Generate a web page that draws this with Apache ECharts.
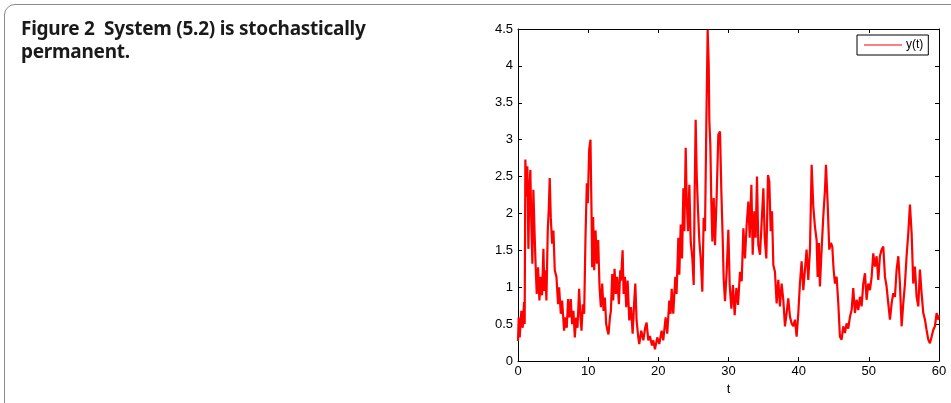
<!DOCTYPE html>
<html>
<head>
<meta charset="utf-8">
<script src="https://cdn.jsdelivr.net/npm/echarts@6/dist/echarts.min.js"></script>
<style>
  html, body { margin: 0; padding: 0; background: #fff; }
  .frame {
    position: absolute; left: 0; top: 0; width: 951px; height: 403px; overflow: hidden;
  }
  .box {
    position: absolute; left: 4px; top: 4px; width: 980px; height: 420px;
    border: 1.5px solid #8a8a8a; border-radius: 11px; box-sizing: border-box;
  }
  .caption {
    position: absolute; left: 21px; top: 17px;
    font-family: "Noto Sans", sans-serif; font-weight: bold; font-size: 19px;
    line-height: 23px; color: #1a1a1a; white-space: pre; letter-spacing: -0.25px;
  }
  #chart { position: absolute; left: 0; top: 0; width: 951px; height: 403px; }
</style>
</head>
<body>
<div class="frame">
  <div class="box"></div>
  <div id="chart"></div>
  <div class="caption">Figure 2  System (5.2) is stochastically
permanent.</div>
</div>
<script>
// values, in order along the trace
var tValues = [
  0, 0.1, 0.24, 0.48, 0.67, 0.86, 0.95, 1.05, 1.19, 1.33, 1.48, 1.62, 1.76, 1.9, 2.05, 2.19, 2.38, 2.52, 2.67, 2.86,
  3.05, 3.24, 3.43, 3.62, 3.76, 3.9, 4.05, 4.24, 4.38, 4.52, 4.67, 4.86, 5.05, 5.24, 5.48, 5.71, 5.86, 6.1, 6.29, 6.57,
  6.76, 6.95, 7.14, 7.33, 7.52, 7.71, 7.9, 8.1, 8.29, 8.48, 8.71, 8.9, 9.05, 9.24, 9.43, 9.62, 9.81, 9.95, 10.14, 10.33,
  10.48, 10.57, 10.71, 10.86, 11.05, 11.24, 11.43, 11.62, 11.81, 12.0, 12.19, 12.38, 12.57, 12.76, 12.9, 13.1, 13.24, 13.43, 13.57, 13.76,
  13.95, 14.14, 14.38, 14.57, 14.67, 14.91, 15.05, 15.24, 15.43, 15.62, 15.86, 16.1, 16.34, 16.57, 16.72, 16.9, 17.14, 17.28, 17.57, 17.86,
  18.14, 18.33, 18.57, 18.8, 19.09, 19.28, 19.52, 19.85, 20.13, 20.47, 20.7, 21.04, 21.27, 21.56, 21.75, 21.9, 22.13, 22.42, 22.6, 22.85,
  22.99, 23.19, 23.38, 23.57, 23.71, 23.9, 24.04, 24.23, 24.42, 24.61, 24.85, 25.04, 25.18, 25.32, 25.47, 25.66, 25.85, 26.04, 26.27, 26.46,
  26.65, 26.84, 27.03, 27.18, 27.27, 27.41, 27.56, 27.7, 27.89, 28.08, 28.32, 28.55, 28.79, 28.98, 29.17, 29.31, 29.5, 29.74, 29.98, 30.17,
  30.41, 30.64, 30.88, 31.12, 31.36, 31.64, 31.88, 32.12, 32.35, 32.59, 32.83, 33.02, 33.26, 33.45, 33.68, 33.87, 34.06, 34.25, 34.49, 34.73,
  34.97, 35.16, 35.39, 35.63, 35.82, 36.01, 36.2, 36.39, 36.62, 36.86, 37.1, 37.33, 37.57, 37.81, 38.05, 38.28, 38.52, 38.76, 39.0, 39.23,
  39.47, 39.71, 39.95, 40.18, 40.42, 40.66, 40.9, 41.13, 41.37, 41.61, 41.85, 42.08, 42.32, 42.56, 42.7, 42.89, 43.03, 43.27, 43.51, 43.75,
  43.89, 44.13, 44.36, 44.6, 44.79, 44.98, 45.17, 45.41, 45.65, 45.88, 46.12, 46.36, 46.6, 46.83, 47.07, 47.31, 47.55, 47.78, 48.02, 48.26,
  48.5, 48.73, 48.97, 49.21, 49.45, 49.68, 49.92, 50.16, 50.4, 50.63, 50.87, 51.11, 51.35, 51.58, 51.82, 52.06, 52.3, 52.53, 52.77, 53.01,
  53.25, 53.48, 53.72, 53.96, 54.2, 54.43, 54.67, 54.91, 55.15, 55.38, 55.62, 55.86, 56.1, 56.33, 56.57, 56.81, 57.05, 57.28, 57.52, 57.76,
  58.0, 58.23, 58.47, 58.71, 58.95, 59.18, 59.42, 59.66, 59.9, 60
];
var yValues = [
  0.27, 0.59, 0.32, 0.68, 0.45, 0.80, 0.5, 2.73, 2.23, 2.64, 1.52, 2.32, 2.59, 1.86, 1.32, 2.32, 1.68, 1.27, 0.91, 1.27,
  0.82, 1.14, 0.89, 1.52, 0.95, 1.23, 0.82, 1.77, 2.05, 2.48, 1.95, 1.59, 1.77, 1.23, 1.14, 0.77, 1.0, 0.64, 0.82, 0.41,
  0.59, 0.45, 0.84, 0.59, 0.84, 0.5, 0.68, 0.32, 0.59, 0.45, 0.98, 0.59, 0.41, 0.77, 0.64, 1.68, 2.41, 2.14, 2.86, 3.0,
  2.0, 1.27, 1.95, 1.23, 1.77, 1.32, 1.64, 1.0, 0.73, 1.05, 0.68, 0.86, 0.5, 0.41, 0.36, 0.59, 0.68, 1.18, 0.82, 1.25,
  0.91, 1.14, 0.77, 1.23, 1.09, 1.5, 0.91, 1.14, 0.73, 1.09, 0.55, 0.73, 0.37, 0.82, 1.05, 0.55, 0.32, 0.23, 0.41, 0.28,
  0.46, 0.52, 0.28, 0.34, 0.21, 0.28, 0.16, 0.32, 0.23, 0.41, 0.28, 0.59, 0.37, 0.82, 0.64, 0.98, 0.64, 1.14, 0.91, 1.67,
  1.17, 1.85, 1.39, 2.34, 1.76, 2.89, 2.21, 1.76, 2.39, 1.62, 1.39, 1.03, 2.3, 3.27, 2.52, 2.03, 1.62, 1.39, 0.94, 1.94,
  1.76, 3.2, 4.49, 4.02, 3.25, 2.93, 2.12, 1.62, 2.21, 1.57, 2.25, 3.07, 3.11, 2.3, 1.67, 1.12, 0.81, 1.21, 1.78, 1.03,
  0.71, 1.03, 0.62, 0.99, 0.76, 1.21, 1.08, 1.8, 1.39, 1.85, 2.16, 1.67, 2.39, 1.44, 2.03, 1.67, 2.5, 1.57, 1.44, 1.89,
  2.34, 1.67, 1.39, 2.52, 2.43, 1.76, 2.03, 1.3, 1.21, 0.78, 1.1, 0.74, 1.05, 0.83, 0.47, 0.65, 0.85, 0.6, 0.51, 0.47,
  0.56, 0.33, 0.65, 1.05, 1.35, 0.96, 1.24, 1.51, 1.1, 1.51, 2.66, 2.1, 1.82, 1.64, 1.14, 1.6, 1.01, 1.51, 1.96, 2.32,
  2.66, 2.14, 1.51, 1.6, 1.55, 1.24, 1.05, 1.14, 0.78, 0.33, 0.29, 0.47, 0.38, 0.51, 0.44, 0.6, 0.69, 0.99, 0.65, 0.83,
  0.69, 0.87, 0.74, 1.05, 1.19, 0.83, 1.05, 0.96, 1.14, 1.46, 1.28, 1.42, 1.1, 1.42, 1.51, 1.55, 1.14, 1.01, 0.78, 0.56,
  0.78, 0.92, 0.87, 1.24, 1.42, 1.05, 0.47, 0.78, 1.05, 1.42, 1.73, 2.12, 1.73, 1.05, 1.28, 0.87, 0.74, 1.24, 0.92, 0.65,
  0.56, 0.42, 0.29, 0.24, 0.33, 0.42, 0.47, 0.65, 0.56, 0.62
];
var xTicks = [0, 10, 20, 30, 40, 50, 60];
var yTicks = [0, 0.5, 1, 1.5, 2, 2.5, 3, 3.5, 4, 4.5];
var seriesName = "y(t)";

var points = tValues.map(function (t, i) {
  return [t, yValues[i]];
});

var labelFont = {
  fontFamily: "Liberation Sans",
  fontSize: 13,
  color: "#000",
};

function makeX(pos, showLabel) {
  return {
    type: "value",
    position: pos,
    min: xTicks[0],
    max: xTicks[xTicks.length - 1],
    interval: xTicks[1] - xTicks[0],
    name: showLabel ? "t" : "",
    nameLocation: "middle",
    nameGap: 20,
    nameTextStyle: labelFont,
    axisLine: { show: true, onZero: false, lineStyle: { color: "#000", width: 1 } },
    axisTick: { show: true, inside: true, length: 4, lineStyle: { color: "#000" } },
    axisLabel: Object.assign({ show: showLabel, margin: 4 }, labelFont),
    splitLine: { show: false },
  };
}

function makeY(pos, showLabel) {
  return {
    type: "value",
    position: pos,
    min: yTicks[0],
    max: yTicks[yTicks.length - 1],
    interval: yTicks[1] - yTicks[0],
    axisLine: { show: true, onZero: false, lineStyle: { color: "#000", width: 1 } },
    axisTick: { show: true, inside: true, length: 4, lineStyle: { color: "#000" } },
    axisLabel: Object.assign({ show: showLabel, margin: 5 }, labelFont),
    splitLine: { show: false },
  };
}

var chart = echarts.init(document.getElementById("chart"));
chart.setOption({
  animation: false,
  backgroundColor: "transparent",
  grid: { left: 518, top: 29, width: 421, height: 332, containLabel: false },
  xAxis: [makeX("bottom", true), makeX("top", false)],
  yAxis: [makeY("left", true), makeY("right", false)],
  legend: {
    left: 857,
    top: 35,
    data: [{ name: seriesName, icon: "rect" }],
    itemWidth: 38,
    itemHeight: 1.2,
    itemGap: 4,
    padding: [4, 5, 4, 7],
    backgroundColor: "#fff",
    borderColor: "#000",
    borderWidth: 1,
    borderRadius: 0,
    textStyle: { fontFamily: "Liberation Sans", fontSize: 12, color: "#000", padding: [0, 0, 0, -1] },
  },
  series: [
    {
      name: seriesName,
      type: "line",
      data: points,
      showSymbol: false,
      symbol: "none",
      lineStyle: { color: "#ff0000", width: 2.2 },
      itemStyle: { color: "#ff0000" },
      z: 2,
    },
  ],
});
</script>
</body>
</html>
